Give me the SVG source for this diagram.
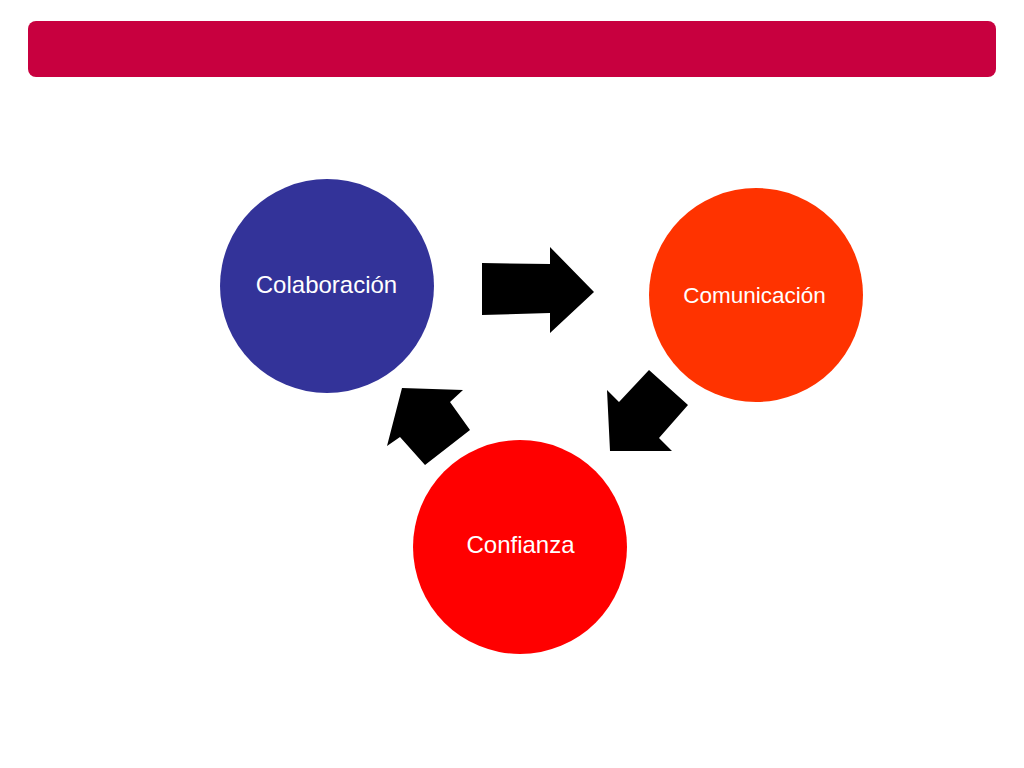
<svg xmlns="http://www.w3.org/2000/svg" width="1024" height="768" viewBox="0 0 1024 768">
<style>
.lbl{font-family:"Liberation Sans",Arial,sans-serif;fill:#FFFFFF;text-anchor:middle}
.arr{fill:#000000}
</style>
<rect width="1024" height="768" fill="#FFFFFF"/>
<rect id="banner" x="28" y="21" width="968" height="56" rx="8" fill="#C8003F"/>
<g id="colaboracion">
<circle cx="327" cy="286" r="107" fill="#333399"/>
<text class="lbl" x="326.5" y="293" font-size="24">Colaboración</text>
</g>
<g id="comunicacion">
<circle cx="756" cy="295" r="107" fill="#FF3300"/>
<text class="lbl" x="754.5" y="302.5" font-size="22.5">Comunicación</text>
</g>
<g id="confianza">
<circle cx="520" cy="547" r="107" fill="#FF0000"/>
<text class="lbl" x="520.5" y="553" font-size="24">Confianza</text>
</g>
<g id="connectors">
<polygon class="arr" points="482,263 550,264 550,247 594,292 550,333 550,313 482,315"/>
<polygon class="arr" points="607,390 619,402 649,370 688,405 659,438 672,451 610,451"/>
<polygon class="arr" points="402,388 463,390 450,402 470,430 425,465 400,437 387,446"/>
</g>
</svg>
